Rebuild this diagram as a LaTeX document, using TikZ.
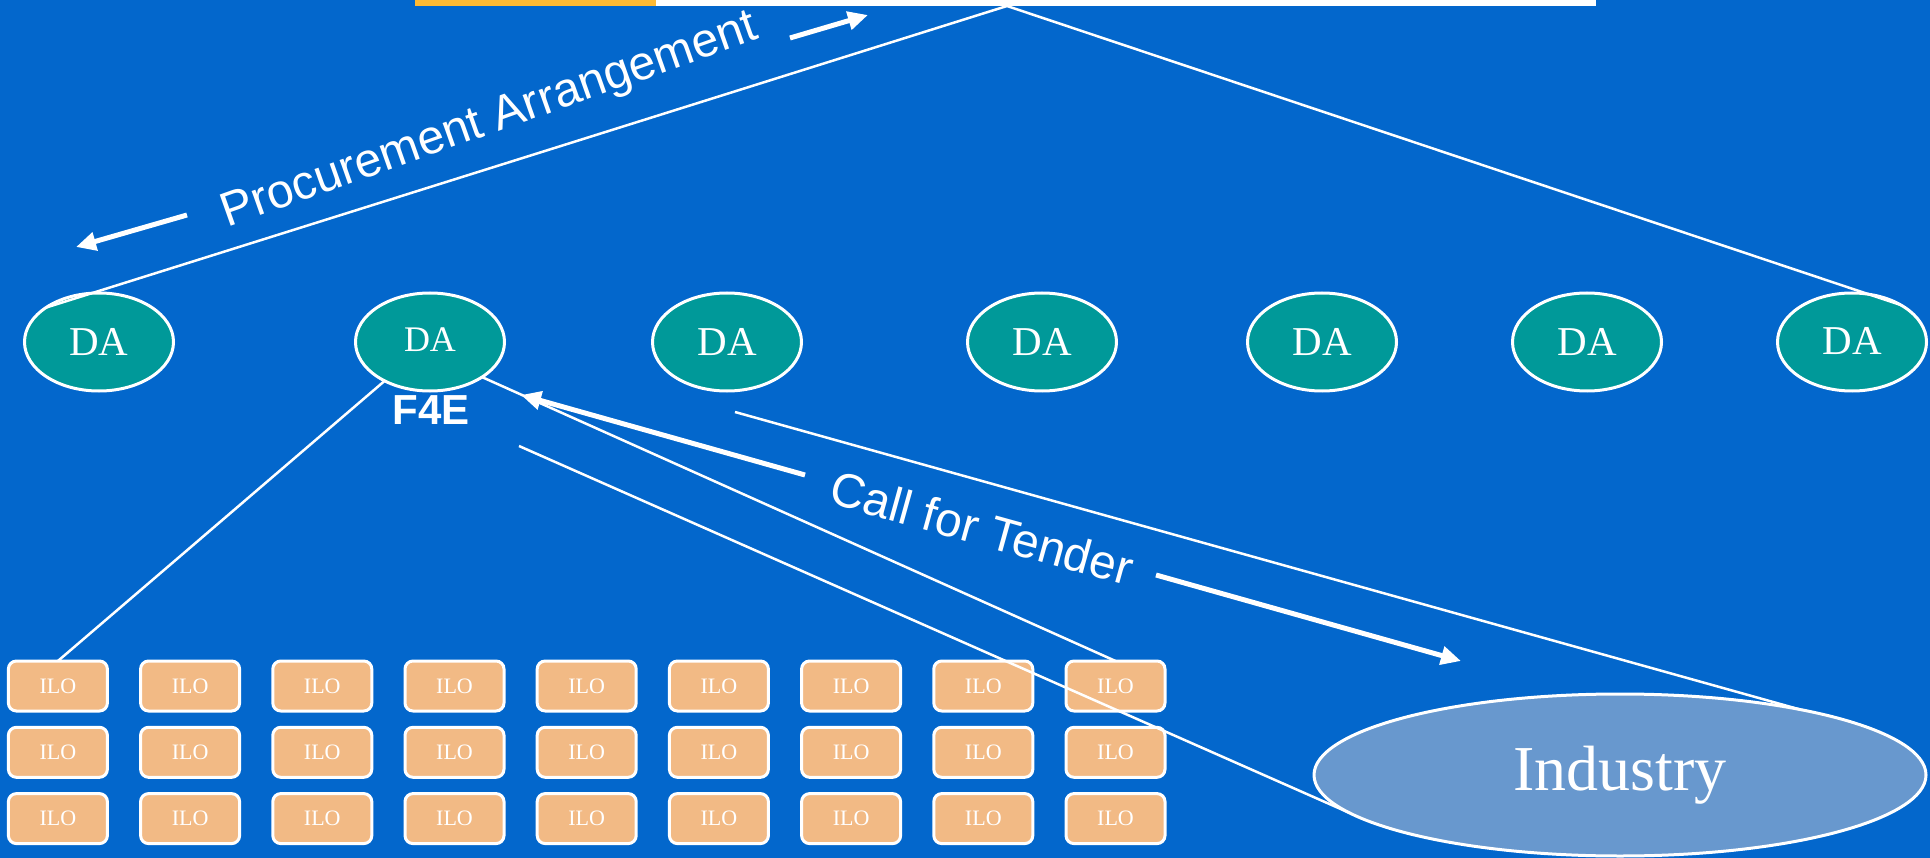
\documentclass[tikz,border=0pt]{standalone}
\usepackage{fontspec}
\setmainfont{Liberation Serif}
\newfontfamily\labelfont{Liberation Sans}
\usetikzlibrary{shapes.geometric,arrows.meta}
\definecolor{bgblue}{RGB}{3,103,204}
\definecolor{dateal}{RGB}{0,153,153}
\definecolor{ilofill}{RGB}{242,186,133}
\definecolor{indfill}{RGB}{104,152,206}
\definecolor{topor}{RGB}{255,186,51}
\begin{document}
\begin{tikzpicture}[x=1pt,y=-1pt,
 da/.style={ellipse,draw=white,line width=3pt,fill=dateal,minimum width=149pt,minimum height=98pt,inner sep=0pt,outer sep=0pt,text=white,font=\fontsize{41}{41}\selectfont},
 ilo/.style={rectangle,rounded corners=8pt,draw=white,line width=3pt,fill=ilofill,minimum width=99pt,minimum height=50pt,inner sep=0pt,outer sep=0pt,text=white,font=\fontsize{22}{22}\selectfont},
 indnode/.style={ellipse,draw=white,line width=3pt,fill=indfill,minimum width=612pt,minimum height=162pt,inner sep=0pt,outer sep=0pt,text=white,font=\fontsize{64}{64}\selectfont},
 conn/.style={draw=white,line width=2.5pt},
 bigarrow/.style={draw=white,line width=5pt,-{Triangle[length=20pt,width=18pt]}},
 lbl/.style={text=white,font=\labelfont\fontsize{48}{48}\selectfont,inner sep=0pt}
]
\fill[bgblue] (0,0) rectangle (1930,858);
\useasboundingbox (0,0) rectangle (1930,858);
% top strip
\fill[topor] (415,0) rectangle (656,6);
\fill[white] (656,0) rectangle (1596,6);
\coordinate (apex) at (1007,6);

% DA nodes
\node[da] (da1) at (99,342) {DA};
\node[da,font=\fontsize{36}{36}\selectfont] (da2) at (430,342) {\raisebox{4pt}{DA}};
\node[da] (da3) at (727,342) {DA};
\node[da] (da4) at (1042,342) {DA};
\node[da] (da5) at (1322,342) {DA};
\node[da] (da6) at (1587,342) {DA};
\node[da] (da7) at (1852,342) {\raisebox{2pt}{DA}};

\node[text=white,font=\labelfont\bfseries\fontsize{42}{42}\selectfont,inner sep=0pt] (f4e) at (431,410) {F4E};

% ILO grid
\foreach \c in {1,...,9} {
  \foreach \r in {1,2,3} {
    \node[ilo] (ilo-\r-\c) at ({57.9+132.2*(\c-1)},{686+66.3*(\r-1)}) {\raisebox{-2pt}{ILO}};
  }
}

% Industry
\node[indnode] (ind) at (1620,775) {Industry};

% connectors
\draw[conn] (da1.147) -- (apex);
\draw[conn] (apex) -- (da7.37);
\draw[conn] (da2) -- (ilo-1-1.north);
\draw[conn] (da2.-34) -- (ilo-1-9.north);
\coordinate (b0) at (519,446);
\draw[conn] (b0) -- (ind.188);
\coordinate (c0) at (735,412);
\draw[conn] (c0) -- (ind.20);

% labels
\node[lbl,rotate=19.5] (pa) at (490,122) {Procurement Arrangement};
\node[lbl,rotate=-15.5,fill=bgblue,inner sep=10pt] (cft) at (982,528) {Call for Tender};

% arrows
\coordinate (a1s) at (187,215);
\coordinate (a1e) at (76,247);
\draw[bigarrow] (a1s) -- (a1e);
\coordinate (a2s) at (790,38);
\coordinate (a2e) at (868,15);
\draw[bigarrow] (a2s) -- (a2e);
\coordinate (a3s) at (805,475);
\coordinate (a3e) at (521,395);
\draw[bigarrow] (a3s) -- (a3e);
\coordinate (a4s) at (1156,575);
\coordinate (a4e) at (1461,661);
\draw[bigarrow] (a4s) -- (a4e);
\end{tikzpicture}
\end{document}
